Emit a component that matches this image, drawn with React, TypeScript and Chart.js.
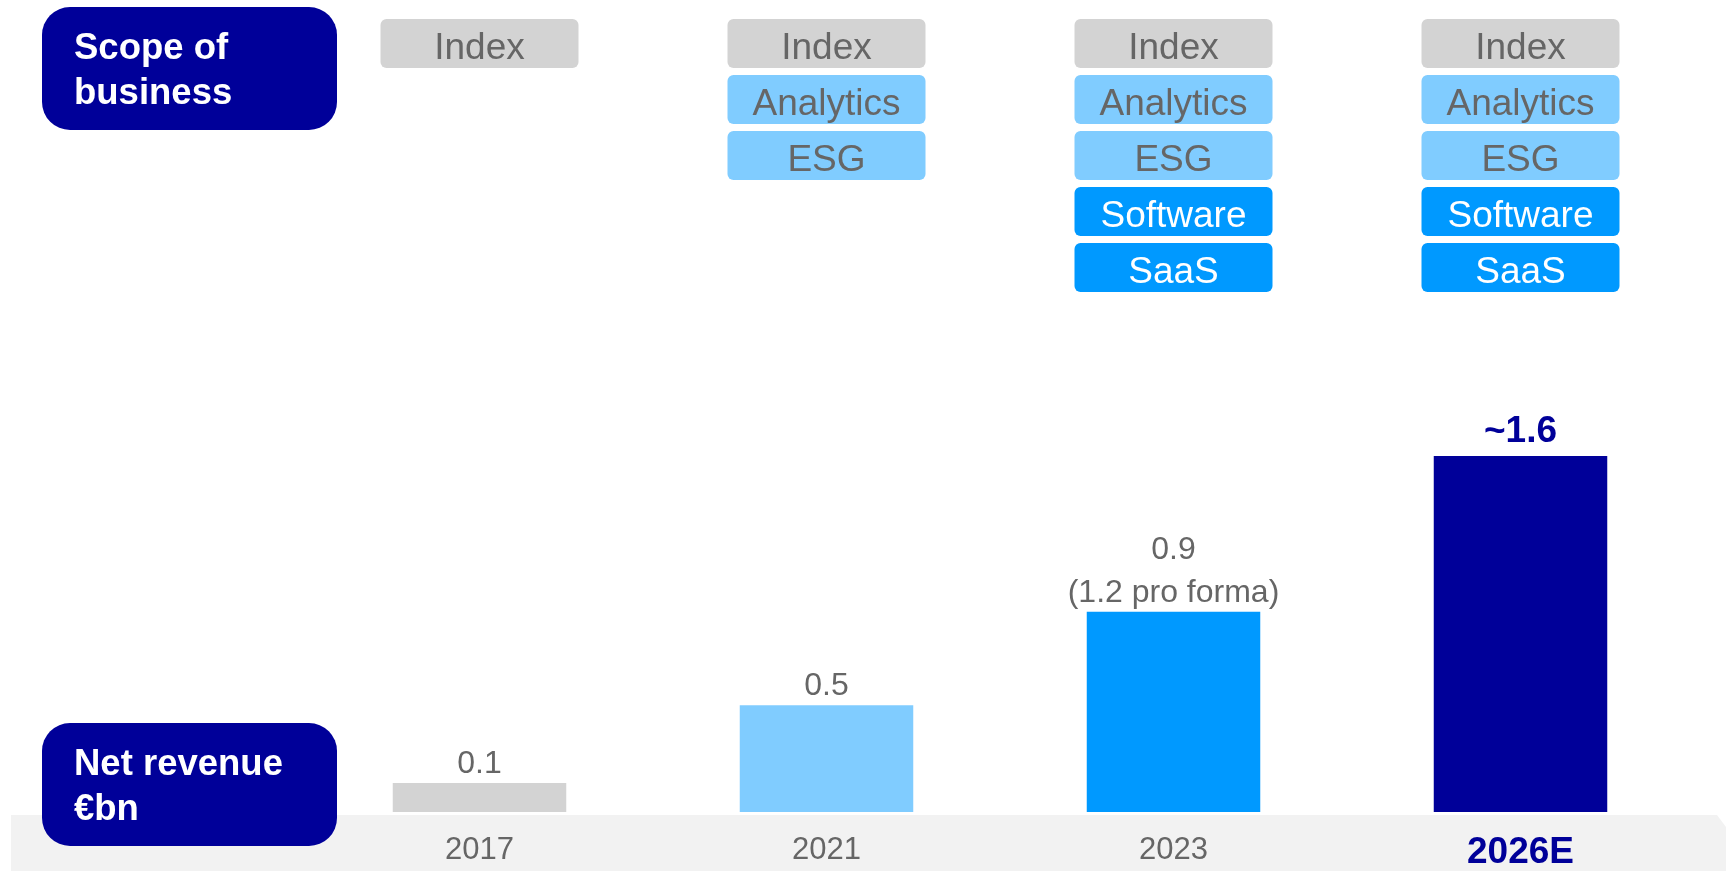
import React, { useEffect, useRef } from "react";
import { Chart, registerables } from "chart.js";

Chart.register(...registerables);

const categories = ["2017", "2021", "2023", "2026E"];
const revenue = [0.13, 0.48, 0.9, 1.6];
const valueLabels = [["0.1"], ["0.5"], ["0.9", "(1.2 pro forma)"], ["~1.6"]];
const barColors = ["#d3d3d3", "#80ccff", "#0099ff", "#000099"];
const scopeItems = [
  ["Index"],
  ["Index", "Analytics", "ESG"],
  ["Index", "Analytics", "ESG", "Software", "SaaS"],
  ["Index", "Analytics", "ESG", "Software", "SaaS"],
];
const scopeStyle: Record<string, { bg: string; fg: string }> = {
  Index: { bg: "#d3d3d3", fg: "#666666" },
  Analytics: { bg: "#80ccff", fg: "#666666" },
  ESG: { bg: "#80ccff", fg: "#666666" },
  Software: { bg: "#0099ff", fg: "#ffffff" },
  SaaS: { bg: "#0099ff", fg: "#ffffff" },
};
const NAVY = "#000099";
const FONT = "'Liberation Sans', Arial, sans-serif";

function rr(ctx: CanvasRenderingContext2D, x: number, y: number, w: number, h: number, r: number) {
  ctx.beginPath();
  ctx.moveTo(x + r, y);
  ctx.lineTo(x + w - r, y);
  ctx.arcTo(x + w, y, x + w, y + r, r);
  ctx.lineTo(x + w, y + h - r);
  ctx.arcTo(x + w, y + h, x + w - r, y + h, r);
  ctx.lineTo(x + r, y + h);
  ctx.arcTo(x, y + h, x, y + h - r, r);
  ctx.lineTo(x, y + r);
  ctx.arcTo(x, y, x + r, y, r);
  ctx.closePath();
}

const bandPlugin = {
  id: "band",
  beforeDraw(chart: any) {
    const ctx = chart.ctx as CanvasRenderingContext2D;
    ctx.save();
    ctx.fillStyle = "#f2f2f2";
    ctx.beginPath();
    ctx.moveTo(11, 815);
    ctx.lineTo(1717, 815);
    ctx.lineTo(1726, 827);
    ctx.lineTo(1726, 871);
    ctx.lineTo(11, 871);
    ctx.closePath();
    ctx.fill();
    ctx.restore();
  },
};

const overlayPlugin = {
  id: "overlay",
  afterDraw(chart: any) {
    const ctx = chart.ctx as CanvasRenderingContext2D;
    const xs = chart.scales.x;
    const ys = chart.scales.y;
    ctx.save();
    ctx.textAlign = "center";
    ctx.textBaseline = "middle";

    // Scope boxes
    const bw = 198, bh = 49, gap = 56, top0 = 19;
    categories.forEach((_, i) => {
      const cx = xs.getPixelForValue(i);
      scopeItems[i].forEach((item, j) => {
        const st = scopeStyle[item];
        const y = top0 + j * gap;
        ctx.fillStyle = st.bg;
        rr(ctx, cx - bw / 2, y, bw, bh, 6);
        ctx.fill();
        ctx.fillStyle = st.fg;
        ctx.font = `37px ${FONT}`;
        ctx.fillText(item, cx, y + bh / 2 + 5);
      });
    });

    // Value labels
    categories.forEach((_, i) => {
      const cx = xs.getPixelForValue(i);
      const topY = ys.getPixelForValue(revenue[i]);
      const lines = valueLabels[i];
      const last = i === 3;
      ctx.font = last ? `bold 37px ${FONT}` : `32px ${FONT}`;
      ctx.fillStyle = last ? NAVY : "#666666";
      const base = topY - (last ? 24 : 19);
      lines.forEach((ln, k) => {
        ctx.fillText(ln, cx, base - (lines.length - 1 - k) * 43);
      });
      // category labels
      ctx.font = last ? `bold 37px ${FONT}` : `31px ${FONT}`;
      ctx.fillStyle = last ? NAVY : "#666666";
      ctx.fillText(categories[i], cx, last ? 853 : 850);
    });

    // Left label boxes
    const boxes = [
      { y: 7, h: 123, lines: ["Scope of", "business"], ty: [49, 94] },
      { y: 723, h: 123, lines: ["Net revenue", "€bn"], ty: [765, 810] },
    ];
    boxes.forEach((b) => {
      ctx.fillStyle = NAVY;
      rr(ctx, 42, b.y, 295, b.h, 28);
      ctx.fill();
      ctx.fillStyle = "#ffffff";
      ctx.font = `bold 36.5px ${FONT}`;
      ctx.textAlign = "left";
      b.lines.forEach((ln, k) => ctx.fillText(ln, 74, b.ty[k]));
      ctx.textAlign = "center";
    });
    ctx.restore();
  },
};

export default function App() {
  const ref = useRef<HTMLCanvasElement | null>(null);
  useEffect(() => {
    document.body.style.margin = "0";
    if (!ref.current) return;
    const chart = new Chart(ref.current, {
      type: "bar",
      data: {
        labels: categories,
        datasets: [
          {
            data: revenue,
            backgroundColor: barColors,
            barPercentage: 0.5,
            categoryPercentage: 1,
            borderWidth: 0,
          },
        ],
      },
      options: {
        animation: false,
        responsive: false,
        maintainAspectRatio: false,
        layout: { padding: { left: 306, right: 32, top: 367, bottom: 59 } },
        plugins: { legend: { display: false }, tooltip: { enabled: false } },
        scales: {
          x: { display: false },
          y: { display: false, min: 0, max: 2.0 },
        },
      },
      plugins: [bandPlugin, overlayPlugin],
    });
    return () => chart.destroy();
  }, []);
  return (
    <div style={{ position: "fixed", left: 0, top: 0, width: 1726, height: 871, background: "#ffffff" }}>
      <canvas ref={ref} width={1726} height={871} style={{ width: 1726, height: 871, display: "block" }} />
    </div>
  );
}
